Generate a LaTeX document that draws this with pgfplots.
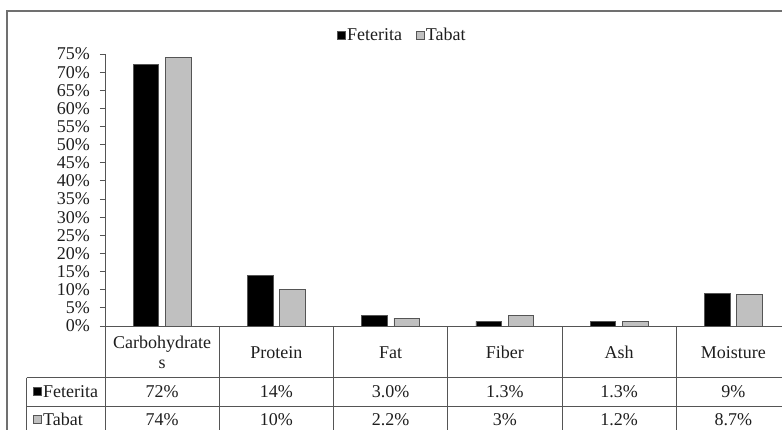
\documentclass[border=0pt]{standalone}
\usepackage{fontspec}
\setmainfont{Liberation Serif}
\usepackage{pgfplots}
\pgfplotsset{compat=1.18}

\definecolor{tabatgray}{RGB}{192,192,192}
\definecolor{framegray}{RGB}{112,112,112}
\definecolor{linegray}{RGB}{85,85,85}
\definecolor{txt}{RGB}{30,30,30}

\newcommand{\chartfont}{\fontsize{18}{20}\selectfont}

\begin{document}
\begin{tikzpicture}[x=1pt,y=1pt,font=\chartfont,text=txt]
% page area (units of 1pt, origin at top left)
\useasboundingbox (0,0) rectangle (782,-429);

% outer chart frame
\draw[framegray, line width=2pt] (7,-445) -- (7,-11) -- (800,-11);

\begin{axis}[
  at={(105pt,-326pt)}, anchor=south west,
  scale only axis, width=685.5pt, height=272pt,
  xmin=-0.5, xmax=5.5, ymin=0, ymax=75,
  ybar=6.6pt, bar width=25.6pt,
  axis y line*=left, axis x line*=bottom,
  axis line style={-, draw=linegray, line width=1pt},
  xtick=\empty,
  ytick={0,5,...,75},
  yticklabel={\pgfmathprintnumber{\tick}\%},
  yticklabel style={xshift=-6.5pt},
  tick align=outside, major tick length=5pt,
  tick style={draw=linegray, line width=1pt},
  tick label style={font=\chartfont, text=txt},
  /pgf/number format/assume math mode=true,
  legend style={at={(axis description cs:0.4333,1.07)}, anchor=center,
    draw=none, fill=none, legend columns=2, font=\chartfont,
    nodes={inner xsep=1.5pt, text=txt},
    /tikz/every even column/.append style={column sep=12pt}},
  legend image code/.code={\draw[#1, line width=0.8pt] (0pt,-4pt) rectangle (8pt,4pt);},
  clip=false,
]
\addplot[fill=black, draw=linegray, line width=0.8pt]
  coordinates {(0,72) (1,14) (2,3.0) (3,1.3) (4,1.3) (5,9)};
\addplot[fill=tabatgray, draw=linegray, line width=0.8pt]
  coordinates {(0,74) (1,10) (2,2.2) (3,3) (4,1.2) (5,8.7)};
\legend{Feterita, Tabat}
\end{axis}

% data table below the plot
\draw[linegray, line width=1pt]
  (26.7,-377.7) -- (800,-377.7)
  (26.7,-406) -- (800,-406)
  (26.7,-377.7) -- (26.7,-445);
\foreach \k in {0,...,6}
  \draw[linegray, line width=1pt] ({105+114.25*\k},-326) -- ++(0,-120);

% category names (the first one wraps onto two lines)
\node[anchor=base, align=center, inner sep=0pt] at (162.1,-368) {Carbohydrate\\s};
\foreach \name [count=\i from 1] in {Protein,Fat,Fiber,Ash,Moisture}
  \node[anchor=base, inner sep=0pt] at ({162.1+114.25*\i},-358.3) {\name};

% row keys
\fill[black, draw=linegray, line width=0.8pt] (33,-387) rectangle (41,-395);
\node[anchor=base west, inner sep=0pt] at (43,-397) {Feterita};
\fill[tabatgray, draw=linegray, line width=0.8pt] (33,-415) rectangle (41,-423);
\node[anchor=base west, inner sep=0pt] at (43,-425.3) {Tabat};

% values
\foreach \v [count=\i from 0] in {72\%,14\%,3.0\%,1.3\%,1.3\%,9\%}
  \node[anchor=base, inner sep=0pt] at ({162.1+114.25*\i},-397) {\v};
\foreach \v [count=\i from 0] in {74\%,10\%,2.2\%,3\%,1.2\%,8.7\%}
  \node[anchor=base, inner sep=0pt] at ({162.1+114.25*\i},-425.3) {\v};
\end{tikzpicture}
\end{document}
